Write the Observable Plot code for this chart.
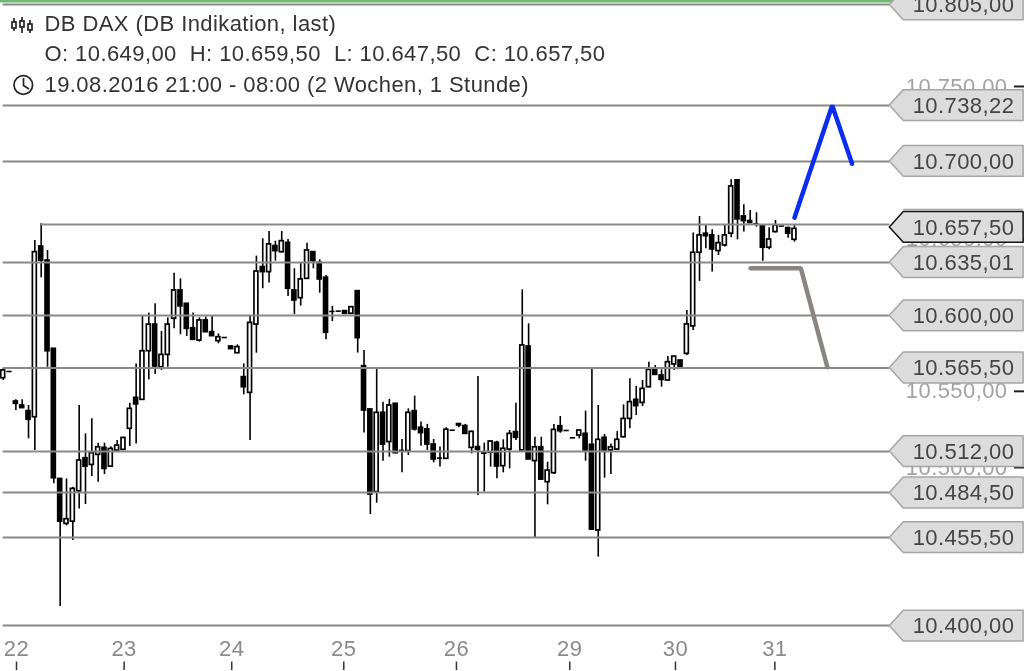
<!DOCTYPE html>
<html><head><meta charset="utf-8">
<script src="https://cdn.jsdelivr.net/npm/d3@7"></script>
<script src="https://cdn.jsdelivr.net/npm/@observablehq/plot@0.6"></script>
<style>html,body{margin:0;padding:0;background:#fff;overflow:hidden}svg{display:block;filter:blur(0.45px)}</style>
</head><body><div id="chart"></div>
<script>
const opens=[10558.6,10563,10543.3,10540.7,10537,10533,10645,10635.8,10577.9,10492.5,
10463,10464.5,10484.4,10506.1,10501.7,10508.3,10512.9,10500.6,10511.1,10511.6,
10525.4,10545.7,10544.4,10576.3,10593.8,10565.8,10573.9,10597.6,10616.2,10607.4,
10591.4,10583.3,10596.5,10588.8,10582.9,10585.3,10579.4,10575,10559.3,10549,
10593.8,10631.5,10628.2,10645.3,10641.3,10647.4,10616.2,10611.1,10623.8,10641.3,
10634.3,10624.5,10602.4,10602.6,10602.6,10600.9,10615.7,10566.5,10538.1,10483.9,
10535.9,10516.7,10541.8,10511.2,10510.8,10537,10526.1,10525,10515.1,10506.2,
10505.7,10524.5,10528.5,10527.2,10512.9,10513.4,10509.7,10509.7,10516.2,10500.9,
10511.8,10523.2,10511.2,10579.4,10504.2,10513.3,10490.4,10496.3,10527.1,10524.3,
10519.5,10521,10522.1,10514.9,10458.7,10519.5,10511.2,10511.8,10519.9,10531.9,
10544.4,10542.4,10552.7,10564.5,10560.4,10557.1,10567.6,10570.2,10574.6,10592.6,
10640.9,10653.4,10652.3,10642,10645.7,10653.4,10688.4,10664.7,10661.7,10659.9,
10658.8,10644.2,10654.5,10658.4,10657.1,10649.4];
const closes=[10563.7,10563,10541.8,10539,10531.3,10641.3,10635.8,10576.3,10493,10464.5,
10466.1,10486,10504.6,10500.6,10509.4,10513.3,10499.1,10512.2,10514.4,10519.4,
10538.5,10541.4,10576.3,10593.8,10566.3,10573.9,10593.8,10616.2,10605.7,10591,
10583.8,10596.5,10588.8,10586.2,10585.5,10585.3,10577.7,10579,10552.7,10594.9,
10628.6,10628.2,10646.4,10642,10648.5,10617.3,10609.6,10623.4,10642.4,10635.4,
10623.4,10588.4,10602.4,10602.6,10600.9,10605.2,10584.9,10537.4,10482.3,10535.9,
10515.1,10540.7,10509.4,10511.2,10535.9,10525,10522.6,10515.1,10505.3,10506.2,
10524.8,10524.5,10527.6,10522.1,10523.4,10511.6,10509.1,10517.1,10500.7,10512.3,
10522.1,10519.5,10580.1,10505.3,10513.3,10492.1,10498,10524.7,10523.8,10524.3,
10519.5,10524.3,10511.2,10459.3,10518.2,10511.2,10513.3,10518.2,10531.9,10542.9,
10540.3,10551.6,10564.1,10560.8,10557.5,10569.1,10572.8,10565.8,10593.9,10640.9,
10652.3,10651.8,10643.1,10647.2,10652.3,10684.4,10662.8,10661.7,10660.4,10659.9,
10644.2,10649.6,10658.8,10658.4,10653.4,10656.6];
const highs=[10564.8,10563,10544.4,10544.4,10540.7,10649,10659.9,10642.4,10577.9,10492.5,
10492.5,10487.1,10540.7,10522.1,10532,10516,10516,10513.7,10517.7,10519.9,
10542.2,10568,10599.7,10601.3,10607.4,10589.3,10598.2,10627.5,10623.8,10607.4,
10601.3,10598.2,10598.7,10599.1,10587.7,10585.3,10580.1,10580.5,10568,10599.1,
10638.7,10650.1,10654.9,10648.5,10654.9,10649.6,10630.4,10634.1,10647.2,10641.3,
10636.3,10626,10605.7,10602.6,10602.6,10605.2,10616.2,10576.8,10538.1,10564.8,
10542.9,10544.7,10541.8,10518.4,10538.5,10546.8,10529.8,10528.3,10518.4,10513.4,
10526.1,10524.5,10528.5,10528.3,10523.9,10559.7,10516,10517.3,10517.3,10518.2,
10524.3,10542.2,10616.6,10594.3,10519.9,10519.9,10503.5,10528.2,10533.5,10524.3,
10519.5,10524.7,10537,10564.7,10540.7,10521.7,10515.5,10523.6,10541.1,10558.2,
10553.2,10557.1,10569.1,10566.9,10564.1,10572.8,10572.8,10570.2,10603.1,10653.8,
10664.7,10658.8,10656,10652.3,10658.8,10688.8,10688.4,10672.4,10668.7,10667.1,
10658.8,10657.3,10662.1,10658.4,10657.7,10658.8];
const lows=[10557.1,10563,10537.4,10539,10518.8,10511.2,10624.5,10565.8,10489.3,10408.8,
10461.7,10452.1,10472.8,10475.7,10494.1,10490.3,10495.4,10500.2,10511.1,10511.1,
10513.8,10515.5,10544,10557.5,10561,10563.7,10565.8,10591,10587.1,10586,
10583.8,10582.3,10588.8,10586.2,10581.2,10585.3,10577.4,10575,10547.7,10517.7,
10575,10617.3,10621,10635.4,10640.7,10612.2,10600.4,10605.9,10623.4,10630.4,
10614.4,10583.8,10595.8,10602.6,10600.9,10600.9,10575.1,10522.6,10469.2,10476.6,
10504.2,10506.8,10509,10496.5,10507.9,10523.9,10514,10511.2,10503.1,10500.3,
10505.3,10524.5,10526.1,10521.7,10509,10481.7,10483.9,10500.3,10492.6,10496.5,
10499.1,10517.7,10511.2,10505.3,10453.9,10491.5,10475.5,10495.4,10522.5,10524.3,
10519.5,10518.8,10504.2,10458.7,10441.2,10493,10495.4,10511.2,10519.3,10525.4,
10534.1,10540,10552.3,10560.4,10552.7,10556.7,10563.7,10565.8,10573.5,10589.9,
10622.1,10643.5,10628.2,10639.1,10644.6,10650.7,10649.4,10654.5,10659.9,10657.7,
10635.4,10642.9,10653.8,10658.4,10650.5,10647.9];

// Drawn support/resistance levels as they sit on the picture's price axis
const levelPrices=[10803.8,10737.5,10700.8,10659.5,10634.5,10599.7,10565.3,10510.5,10483.6,10454.1,10396.3];
const levelStarts=[0,0,0,6,0,0,0,0,0,0,0];
const labelPrices=[10803.5,10737.5,10700.8,10657.5,10634.5,10599.5,10565.3,10510.5,10483.3,10454,10396];
const labelTexts=["10.805,00","10.738,22","10.700,00","10.657,50","10.635,01","10.600,00","10.565,50","10.512,00","10.484,50","10.455,50","10.400,00"];
const axisPrices=[10500,10550,10650,10750];
const dayTicks=[2.1,19.1,36.1,53.8,71.6,89.5,106.2,121.9];
const dayNames=["22","23","24","25","26","29","30","31"];
const blueX=[125,130.96,134.1], blueY=[10663.9,10737.5,10699.3];
const greyX=[118.06,126,130.2], greyY=[10630.8,10630.8,10565.8];
const headerLines=["DB DAX (DB Indikation, last)","O: 10.649,00  H: 10.659,50  L: 10.647,50  C: 10.657,50","19.08.2016 21:00 - 08:00 (2 Wochen, 1 Stunde)"];

const candles=opens.map((o,i)=>({i,o,c:closes[i],h:highs[i],l:lows[i]}));
const bodies=candles.filter(d=>d.o!==d.c), flats=candles.filter(d=>d.o===d.c);
const idx=d3.range(levelPrices.length);
const bw=0.31, labelH=10.1, tipX=140.06, shoulderX=142.27, rightX=161.2, textX=151.7;
const labelPts=idx.flatMap(k=>[
 {k,x:tipX,y1:labelPrices[k],y2:labelPrices[k]},
 {k,x:shoulderX,y1:labelPrices[k]+labelH,y2:labelPrices[k]-labelH},
 {k,x:rightX,y1:labelPrices[k]+labelH,y2:labelPrices[k]-labelH}]);
const F="Liberation Sans";
const header=()=>{
  const g=d3.create("svg:g").attr("fill","none").attr("stroke","#222").attr("stroke-width",1.7);
  g.append("circle").attr("cx",23.3).attr("cy",85).attr("r",9.3);
  g.append("path").attr("d","M23.5 78V85.5L29 89");
  [[14,18,31],[22,17,33],[30,20,33]].forEach(([x,a,b])=>{g.append("path").attr("d",`M${x} ${a}V${b}`);
    g.append("rect").attr("x",x-2).attr("y",a+4).attr("width",4).attr("height",6).attr("fill","#fff");});
  return g.node();
};
const chart=Plot.plot({
  width:1024,height:671,
  marginTop:0,marginLeft:0,marginRight:11,marginBottom:36,
  style:{fontFamily:F,background:"#fff",overflow:"hidden",letterSpacing:"0.42px"},
  x:{domain:[-0.427,159.6],range:[0,1013]},
  y:{domain:[10806.4,10389.8],range:[0,635]},
  marks:[
    Plot.axisY(axisPrices,{anchor:"right",label:null,tickSize:10,tickPadding:-16,textAnchor:"end",fontSize:22,color:"#a3a3a3",stroke:"#222",strokeWidth:2,
      tickFormat:d=>d3.format(",.2f")(d).replace(/,/g,"#").replace(".",",").replace("#",".")}),
    Plot.axisX(dayTicks,{anchor:"bottom",label:null,tickSize:0,tickPadding:0,fontSize:22,color:"#8a8a8a",dy:5,tickFormat:(d,i)=>dayNames[i]}),
    Plot.ruleX(dayTicks,{y1:10372.4,y2:10366.8,stroke:"#333",strokeWidth:1.5}),
    Plot.ruleY([10805.9],{stroke:"#6fb872",strokeWidth:2.5}),
    Plot.ruleX(candles,{x:"i",y1:"l",y2:"h",stroke:"#000",strokeWidth:1.6}),
    Plot.rect(bodies,{x1:d=>d.i-bw,x2:d=>d.i+bw,y1:"o",y2:"c",fill:d=>d.c>d.o?"#fff":"#000",stroke:"#000",strokeWidth:1.7}),
    Plot.ruleY(flats,{x1:d=>d.i-bw-0.1,x2:d=>d.i+bw+0.1,y:"o",stroke:"#000",strokeWidth:1.6}),
    Plot.ruleY(idx,{y:k=>levelPrices[k],x1:k=>levelStarts[k],x2:tipX,stroke:"#8c8886",strokeWidth:2}),
    Plot.line(blueX,{x:d=>d,y:(d,i)=>blueY[i],stroke:"#0b2df0",strokeWidth:4.5,strokeLinejoin:"miter"}),
    Plot.line(greyX,{x:d=>d,y:(d,i)=>greyY[i],stroke:"#8a8583",strokeWidth:4.5,strokeLinejoin:"miter"}),
    Plot.ruleY([10669.3],{x1:shoulderX,x2:rightX,stroke:"#a5a5a5",strokeWidth:1.5}),
    Plot.area(labelPts,{x1:"x",y1:"y1",y2:"y2",z:"k",fill:"#dcdcdc",stroke:d=>d.k===3?"#111":"#a5a5a5",strokeWidth:1.5}),
    Plot.text(idx,{x:textX,y:k=>labelPrices[k],text:k=>labelTexts[k],fontSize:22,fill:"#444",textAnchor:"middle"}),
    ...headerLines.map((t,i)=>Plot.text([t],{frameAnchor:"top-left",dx:44,dy:15+i*30.2,text:d=>d,fontSize:22,fill:"#333"})),
    header
  ]
});
document.getElementById("chart").append(chart);
</script></body></html>
